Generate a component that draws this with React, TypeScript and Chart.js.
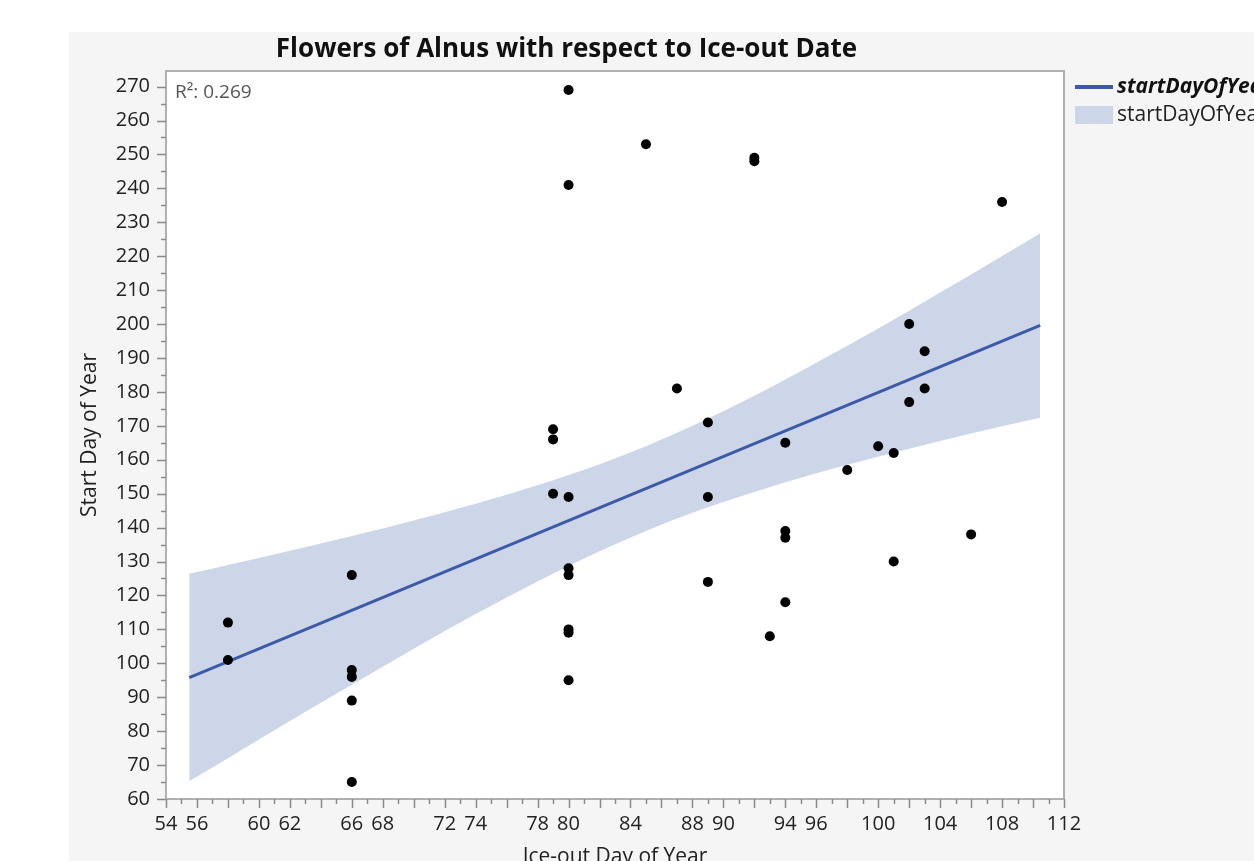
import React, { useEffect, useRef } from "react";
import { Chart, registerables } from "chart.js";
Chart.register(...registerables);

const chartTitle = "Flowers of Alnus with respect to Ice-out Date";
const xAxisTitle = "Ice-out Day of Year";
const yAxisTitle = "Start Day of Year";
const rSquaredText = "R\u00B2: 0.269";
const legendLabels = ["startDayOfYear", "startDayOfYear"];

const iceOutDay = [58, 58, 66, 66, 66, 66, 66, 79, 79, 79, 80, 80, 80, 80, 80, 80, 80, 80, 85, 87, 89, 89, 89, 92, 92, 93, 94, 94, 94, 94, 98, 100, 101, 101, 102, 102, 103, 103, 106, 108];
const startDay = [112, 101, 126, 98, 96, 89, 65, 169, 166, 150, 269, 241, 149, 128, 126, 110, 109, 95, 253, 181, 171, 149, 124, 248, 249, 108, 165, 139, 137, 118, 157, 164, 162, 130, 200, 177, 192, 181, 138, 236];

const fitX = [55.5, 110.46];
const fitY = [95.8, 199.6];

const bandX = [55.5, 58, 62, 66, 70, 74, 78, 82, 85, 88, 92, 96, 100, 104, 108, 110.46];
const bandUpper = [126.4, 129.0, 133.2, 137.5, 142.1, 147.0, 152.5, 158.7, 164.0, 170.0, 178.9, 188.6, 198.7, 209.3, 220.1, 226.8];
const bandLower = [65.2, 72.0, 83.0, 93.7, 104.3, 114.5, 124.1, 133.0, 139.0, 144.4, 150.5, 156.0, 160.9, 165.5, 169.9, 172.4];

const xLabeledTicks = [54, 56, 60, 62, 66, 68, 72, 74, 78, 80, 84, 88, 90, 94, 96, 100, 104, 108, 112];
const yLabeledTicks = [60, 70, 80, 90, 100, 110, 120, 130, 140, 150, 160, 170, 180, 190, 200, 210, 220, 230, 240, 250, 260, 270];
const xRange = [54, 112];
const yRange = [60, 274.6];

const FONT = "'Open Sans', 'Noto Sans', sans-serif";
const LINE_BLUE = "#3d5aa8";
const BAND_BLUE = "rgba(205, 214, 233, 1)";

const decorPlugin = {
  id: "decor",
  beforeDraw(chart: any) {
    const { ctx, width, height, chartArea: ca } = chart;
    ctx.save();
    ctx.fillStyle = "#ffffff";
    ctx.fillRect(0, 0, width, height);
    ctx.fillStyle = "#f5f5f5";
    ctx.fillRect(69, 32, width - 69, height - 32);
    ctx.fillStyle = "#ffffff";
    ctx.fillRect(ca.left, ca.top, ca.right - ca.left, ca.bottom - ca.top);
    ctx.restore();
  },
  afterDraw(chart: any) {
    const { ctx, chartArea: ca } = chart;
    const xs = chart.scales.x;
    const ys = chart.scales.y;
    ctx.save();
    // frame
    ctx.strokeStyle = "#b0b0b0";
    ctx.lineWidth = 2;
    ctx.strokeRect(ca.left, ca.top, ca.right - ca.left, ca.bottom - ca.top);
    // tick marks
    ctx.strokeStyle = "#8a8a8a";
    ctx.lineWidth = 1.5;
    ctx.beginPath();
    for (let v = xRange[0]; v <= xRange[1]; v += 1) {
      const px = Math.round(xs.getPixelForValue(v)) + 0.5;
      const len = v % 2 === 0 ? 9 : 5;
      ctx.moveTo(px, ca.bottom);
      ctx.lineTo(px, ca.bottom + len);
    }
    for (let v = yRange[0]; v <= 270; v += 5) {
      const py = Math.round(ys.getPixelForValue(v)) + 0.5;
      const len = v % 10 === 0 ? 9 : 5;
      ctx.moveTo(ca.left, py);
      ctx.lineTo(ca.left - len, py);
    }
    ctx.stroke();

    // title
    ctx.fillStyle = "#111111";
    ctx.font = `bold 26px ${FONT}`;
    ctx.textAlign = "center";
    ctx.textBaseline = "middle";
    ctx.fillText(chartTitle, (69 + ca.right) / 2, 50);

    // axis titles
    ctx.fillStyle = "#222222";
    ctx.font = `21px ${FONT}`;
    ctx.fillText(xAxisTitle, (ca.left + ca.right) / 2, 857);
    ctx.save();
    ctx.translate(90, (ca.top + ca.bottom) / 2);
    ctx.rotate(-Math.PI / 2);
    ctx.font = `21px ${FONT}`;
    ctx.fillText(yAxisTitle, 0, 0);
    ctx.restore();

    // R2
    ctx.fillStyle = "#555555";
    ctx.font = `19px ${FONT}`;
    ctx.textAlign = "left";
    ctx.fillText(rSquaredText, ca.left + 9, 93);

    // legend
    ctx.strokeStyle = LINE_BLUE;
    ctx.lineWidth = 4;
    ctx.beginPath();
    ctx.moveTo(1075, 87);
    ctx.lineTo(1113, 87);
    ctx.stroke();
    ctx.fillStyle = "#111111";
    ctx.font = `italic bold 21px ${FONT}`;
    ctx.fillText(legendLabels[0], 1117, 87);
    ctx.fillStyle = BAND_BLUE;
    ctx.fillRect(1075, 106, 38, 18);
    ctx.fillStyle = "#222222";
    ctx.font = `21px ${FONT}`;
    ctx.fillText(legendLabels[1], 1117, 115);
    ctx.restore();
  },
};

export default function App() {
  const canvasRef = useRef<HTMLCanvasElement | null>(null);

  useEffect(() => {
    const canvas = canvasRef.current;
    if (!canvas) return;
    const points = iceOutDay.map((x, i) => ({ x, y: startDay[i] }));
    const fitPts = fitX.map((x, i) => ({ x, y: fitY[i] }));
    const upper = bandX.map((x, i) => ({ x, y: bandUpper[i] }));
    const lower = bandX.map((x, i) => ({ x, y: bandLower[i] }));

    const chart = new Chart(canvas, {
      type: "scatter",
      data: {
        datasets: [
          {
            label: "points",
            data: points,
            backgroundColor: "#000000",
            borderWidth: 0,
            pointRadius: 5,
          },
          {
            type: "line",
            label: "fit",
            data: fitPts,
            borderColor: LINE_BLUE,
            borderWidth: 3,
            pointRadius: 0,
            fill: false,
          },
          {
            type: "line",
            label: "upper",
            data: upper,
            borderWidth: 0,
            borderColor: "rgba(0,0,0,0)",
            backgroundColor: BAND_BLUE,
            pointRadius: 0,
            cubicInterpolationMode: "monotone",
            fill: "+1",
          },
          {
            type: "line",
            label: "lower",
            data: lower,
            borderWidth: 0,
            borderColor: "rgba(0,0,0,0)",
            pointRadius: 0,
            cubicInterpolationMode: "monotone",
            fill: false,
          },
        ] as any,
      },
      options: {
        animation: false,
        responsive: false,
        devicePixelRatio: 1,
        layout: { padding: { left: 0, top: 71, right: 190, bottom: 0 } },
        plugins: {
          legend: { display: false },
          title: { display: false },
          tooltip: { enabled: false },
        },
        scales: {
          x: {
            type: "linear",
            min: xRange[0],
            max: xRange[1],
            grid: { display: false, drawTicks: false },
            border: { display: false },
            afterBuildTicks: (s: any) => {
              s.ticks = xLabeledTicks.map((v) => ({ value: v }));
            },
            ticks: {
              autoSkip: false,
              maxRotation: 0,
              padding: 13,
              color: "#222222",
              font: { family: FONT, size: 20 },
              callback: (v: any) => String(v),
            },
            afterFit: (s: any) => {
              s.height = 62;
            },
          },
          y: {
            type: "linear",
            min: yRange[0],
            max: yRange[1],
            grid: { display: false, drawTicks: false },
            border: { display: false },
            afterBuildTicks: (s: any) => {
              s.ticks = yLabeledTicks.map((v) => ({ value: v }));
            },
            ticks: {
              autoSkip: false,
              padding: 16,
              color: "#222222",
              font: { family: FONT, size: 20 },
              callback: (v: any) => String(v),
            },
            afterFit: (s: any) => {
              s.width = 166;
            },
          },
        },
      } as any,
      plugins: [decorPlugin],
    });
    return () => chart.destroy();
  }, []);

  return (
    <div style={{ position: "absolute", left: 0, top: 0, width: 1254, height: 861, overflow: "hidden" }}>
      <canvas ref={canvasRef} width={1254} height={861} style={{ display: "block" }} />
    </div>
  );
}
